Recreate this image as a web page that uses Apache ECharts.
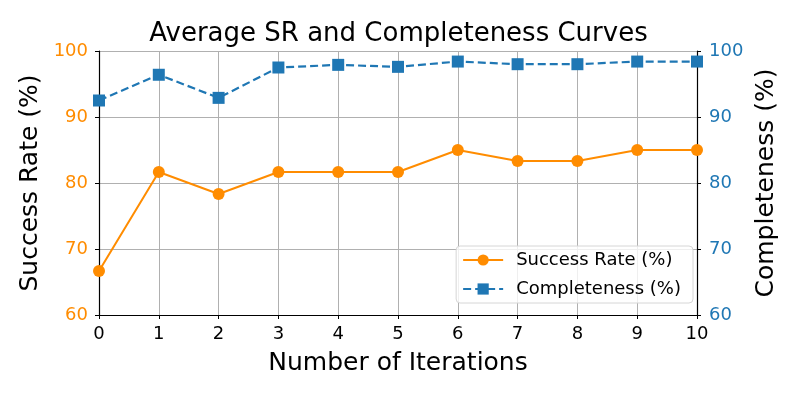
<!DOCTYPE html>
<html><head><meta charset="utf-8">
<script src="https://cdn.jsdelivr.net/npm/echarts@6/dist/echarts.min.js"></script>
<style>html,body{margin:0;padding:0;background:#fff}#c{width:797px;height:399px}</style>
</head><body><div id="c"></div>
<script>
const iterations = [0,1,2,3,4,5,6,7,8,9,10];
const successRate = [66.67,81.67,78.33,81.67,81.67,81.67,85.0,83.33,83.33,85.0,85.0];
const completeness = [92.5,96.4,92.9,97.5,97.9,97.6,98.4,98.0,98.0,98.4,98.4];
const yTicks = [60,70,80,90,100];

const font = 'DejaVu Sans';
const chart = echarts.init(document.getElementById('c'), null, {renderer:'canvas'});
chart.setOption({
  animation:false,
  backgroundColor:'#fff',
  title:{text:'Average SR and Completeness Curves',left:'center',top:16,
    textStyle:{fontFamily:font,fontSize:26,fontWeight:'normal',color:'#000'}},
  grid:{left:99,right:100,top:51,bottom:84},
  legend:{
    orient:'vertical',right:104,top:246,
    backgroundColor:'rgba(255,255,255,0.8)',
    borderColor:'#d6d6d6',borderWidth:1,borderRadius:4,
    padding:[5,12,5,6],itemGap:11,itemWidth:40,itemHeight:14,
    textStyle:{fontFamily:font,fontSize:18,color:'#000',padding:[0,0,0,8]},
    data:['Success Rate (%)','Completeness (%)']
  },
  xAxis:{type:'value',min:0,max:10,interval:1,
    name:'Number of Iterations',nameLocation:'middle',nameGap:36,
    nameTextStyle:{fontFamily:font,fontSize:25,color:'#000'},
    axisLine:{lineStyle:{color:'#000',width:1.2}},
    axisTick:{show:true,length:4,lineStyle:{color:'#000'}},
    axisLabel:{fontFamily:font,fontSize:18,color:'#000',margin:10},
    splitLine:{show:true,lineStyle:{color:'#b0b0b0',width:1}}
  },
  yAxis:[{type:'value',min:60,max:100,interval:10,position:'left',
    name:'Success Rate (%)',nameLocation:'middle',nameGap:53,
    nameTextStyle:{fontFamily:font,fontSize:25,color:'#000'},
    axisLine:{show:true,lineStyle:{color:'#000',width:1.2}},
    axisTick:{show:true,length:4,lineStyle:{color:'#000'}},
    axisLabel:{fontFamily:font,fontSize:18,color:'#ff8c00',margin:11},
    splitLine:{show:true,lineStyle:{color:'#b0b0b0',width:1}}
  },{type:'value',min:60,max:100,interval:10,position:'right',
    name:'Completeness (%)',nameLocation:'middle',nameGap:55,nameRotate:90,
    nameTextStyle:{fontFamily:font,fontSize:25,color:'#000'},
    axisLine:{show:true,lineStyle:{color:'#000',width:1.2}},
    axisTick:{show:true,length:4,lineStyle:{color:'#000'}},
    axisLabel:{fontFamily:font,fontSize:18,color:'#1f77b4',margin:12},
    splitLine:{show:false}
  }],
  series:[{
    name:'Success Rate (%)',type:'line',yAxisIndex:0,
    data:iterations.map((x,i)=>[x,successRate[i]]),
    symbol:'circle',symbolSize:12,
    lineStyle:{color:'#ff8c00',width:2},
    itemStyle:{color:'#ff8c00'},
    z:3
  },{
    name:'Completeness (%)',type:'line',yAxisIndex:1,
    data:iterations.map((x,i)=>[x,completeness[i]]),
    symbol:'rect',symbolSize:12,
    lineStyle:{color:'#1f77b4',width:2.2,type:[8,4]},
    itemStyle:{color:'#1f77b4'},
    z:3
  }]
});
</script></body></html>
